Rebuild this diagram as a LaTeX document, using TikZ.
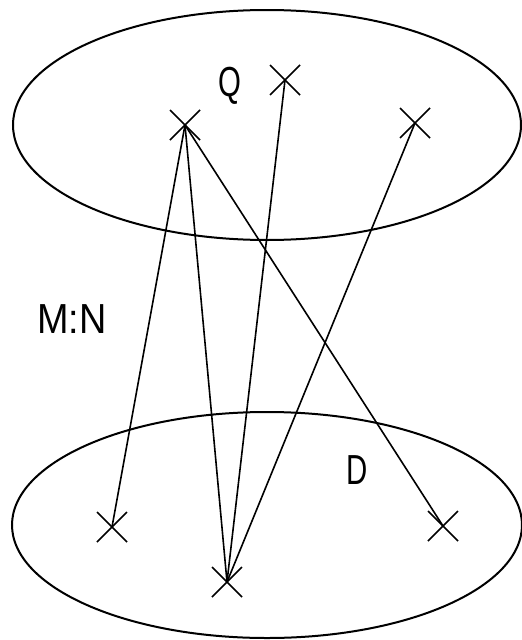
\documentclass[tikz,border=0pt]{standalone}
\usepackage{fontspec}
\setmainfont{Liberation Sans}
\begin{document}
\begin{tikzpicture}[x=1pt,y=-1pt,
  setline/.style={line width=2pt},
  link/.style={line width=1.6pt},
  lbl/.style={font=\fontsize{42}{46}\selectfont,inner sep=0pt,anchor=base}]
\useasboundingbox (0,0) rectangle (522,640);
% sets
\draw[setline] (267,125) ellipse [x radius=254, y radius=115];
\draw[setline] (267,525) ellipse [x radius=255, y radius=113];
% points
\foreach \n/\x/\y in {A/185/125, B/285/80, C/415/123, E/112/527, F/227/582, G/443/526}{
  \coordinate (\n) at (\x,\y);
  \draw[link] (\x-15,\y-15) -- (\x+15,\y+15) (\x-15,\y+15) -- (\x+15,\y-15);
}
% labels
\node[lbl] (q) at (230,96) {\scalebox{0.7}[1]{Q}};
\node[lbl] (d) at (357,484) {\scalebox{0.7}[1]{D}};
\node[lbl] (mn) at (72,333) {\scalebox{0.9}[1]{M:N}};
% connectors
\draw[link] (A) -- (E);
\draw[link] (A) -- (F);
\draw[link] (A) -- (G);
\draw[link] (B) -- (F);
\draw[link] (C) -- (F);
\end{tikzpicture}
\end{document}
